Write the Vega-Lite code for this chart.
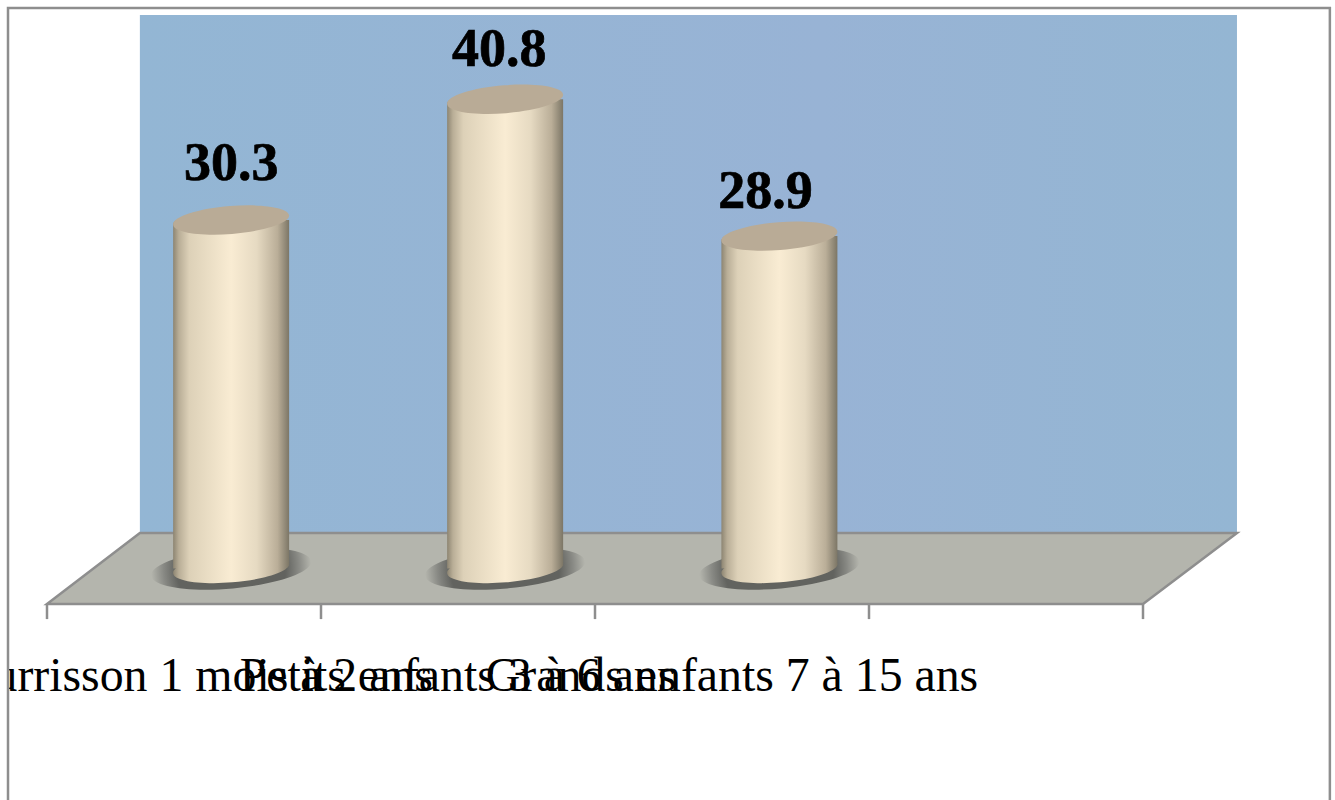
{
  "$schema": "https://vega.github.io/schema/vega-lite/v6.json",
  "description": "Répartition par tranche d'âge, colonnes cylindriques sur un socle en perspective.",
  "width": 1335,
  "height": 800,
  "padding": 0,
  "autosize": {"type": "none"},
  "background": "white",
  "config": {"view": {"stroke": null}, "axis": {"disable": true}, "legend": {"disable": true}},
  "datasets": {
    "groupes": [
      {"groupe": "Nourrisson 1 mois à 2 ans", "valeur": 30.3, "rang": 0.5, "cylindre": 0.672},
      {"groupe": "Petits enfants 3 à 6 ans", "valeur": 40.8, "rang": 1.5, "cylindre": 1.672},
      {"groupe": "Grands enfants 7 à 15 ans", "valeur": 28.9, "rang": 2.5, "cylindre": 2.673}
    ],
    "socle": [
      {"profondeur": 3.09, "gauche": 0.339, "droite": 4.343},
      {"profondeur": -3.09, "gauche": 0, "droite": 4}
    ],
    "graduations": [{"rang": 0}, {"rang": 1}, {"rang": 2}, {"rang": 3}, {"rang": 4}],
    "cadre": [{"nom": "cadre"}]
  },
  "layer": [
    {
      "description": "Paroi du fond",
      "data": {"name": "cadre"},
      "mark": {
        "type": "rect",
        "fill": {
          "x1": 0, "y1": 0, "x2": 1, "y2": 0, "gradient": "linear",
          "stops": [
            {"offset": 0, "color": "#93b6d4"},
            {"offset": 0.62, "color": "#98b3d5"},
            {"offset": 1, "color": "#94b6d3"}
          ]
        }
      },
      "encoding": {
        "x": {"datum": 0.339, "type": "quantitative", "scale": {"domain": [-0.17153, 4.70073], "range": [0, 1335], "nice": false, "zero": false, "padding": 0}},
        "x2": {"datum": 4.343},
        "y": {"datum": 3.09, "type": "quantitative", "scale": {"domain": [-20.13, 49.43], "range": [800, 0], "nice": false, "zero": false, "padding": 0}},
        "y2": {"datum": 48.13}
      }
    },
    {
      "description": "Socle",
      "data": {"name": "socle"},
      "mark": {"type": "area", "orient": "horizontal", "fill": "#b4b5ad", "stroke": "#8e8e8e", "strokeWidth": 2.5, "opacity": 1},
      "encoding": {
        "y": {"field": "profondeur", "type": "quantitative"},
        "x": {"field": "gauche", "type": "quantitative"},
        "x2": {"field": "droite"}
      }
    },
    {
      "description": "Graduations de l'axe des groupes",
      "data": {"name": "graduations"},
      "mark": {"type": "rule", "stroke": "#8e8e8e", "strokeWidth": 2.5},
      "encoding": {
        "x": {"field": "rang", "type": "quantitative"},
        "y": {"datum": -3.09, "type": "quantitative"},
        "y2": {"datum": -4.4}
      }
    },
    {
      "description": "Ombre portée au pied des cylindres",
      "data": {"name": "groupes"},
      "mark": {"type": "point", "filled": true, "opacity": 1, "stroke": null, "size": 25600,
        "shape": "M-1,0.09A1.004,0.25,-5.1,1,1,1,-0.09A1.004,0.25,-5.1,1,1,-1,0.09Z",
        "fill": {
          "gradient": "radial", "x1": 0.5, "y1": 0.5, "r1": 0, "x2": 0.5, "y2": 0.5, "r2": 0.5,
          "stops": [
            {"offset": 0, "color": "#62635f"},
            {"offset": 0.68, "color": "#62635f"},
            {"offset": 0.84, "color": "#878883"},
            {"offset": 1, "color": "#b4b5ad"}
          ]
        }},
      "encoding": {"x": {"field": "cylindre", "type": "quantitative"}, "y": {"datum": 0, "type": "quantitative"}}
    },
    {
      "description": "Base arrondie des cylindres",
      "data": {"name": "groupes"},
      "mark": {"type": "point", "filled": true, "opacity": 1, "stroke": null, "size": 13456,
        "shape": "M-1,0.08A1.003,0.24,-4.6,1,1,1,-0.08A1.003,0.24,-4.6,1,1,-1,0.08Z",
        "fill": {
          "x1": 0, "y1": 0, "x2": 1, "y2": 0, "gradient": "linear",
          "stops": [
            {"offset": 0, "color": "#8d8572"},
            {"offset": 0.05, "color": "#b9ae97"},
            {"offset": 0.14, "color": "#ddd1b8"},
            {"offset": 0.5, "color": "#f9ecd3"},
            {"offset": 0.72, "color": "#e6dac2"},
            {"offset": 0.9, "color": "#baae98"},
            {"offset": 1, "color": "#7c7666"}
          ]
        }},
      "encoding": {"x": {"field": "cylindre", "type": "quantitative"}, "y": {"datum": 0, "type": "quantitative"}}
    },
    {
      "description": "Fût des cylindres",
      "data": {"name": "groupes"},
      "mark": {"type": "bar", "orient": "vertical", "size": 116, "cornerRadiusTopLeft": 5, "cornerRadiusBottomRight": 5,
        "fill": {
          "x1": 0, "y1": 0, "x2": 1, "y2": 0, "gradient": "linear",
          "stops": [
            {"offset": 0, "color": "#8d8572"},
            {"offset": 0.05, "color": "#b9ae97"},
            {"offset": 0.14, "color": "#ddd1b8"},
            {"offset": 0.5, "color": "#f9ecd3"},
            {"offset": 0.72, "color": "#e6dac2"},
            {"offset": 0.9, "color": "#baae98"},
            {"offset": 1, "color": "#7c7666"}
          ]
        }},
      "encoding": {
        "x": {"field": "cylindre", "type": "quantitative"},
        "y": {"field": "valeur", "type": "quantitative"},
        "y2": {"datum": 0}
      }
    },
    {
      "description": "Face supérieure des cylindres",
      "data": {"name": "groupes"},
      "mark": {"type": "point", "filled": true, "opacity": 1, "stroke": null, "fill": "#b9ab96", "size": 13456,
        "shape": "M-1,0.08A1.003,0.24,-4.6,1,1,1,-0.08A1.003,0.24,-4.6,1,1,-1,0.08Z"},
      "encoding": {"x": {"field": "cylindre", "type": "quantitative"}, "y": {"field": "valeur", "type": "quantitative"}}
    },
    {
      "description": "Valeur du premier groupe",
      "data": {"name": "groupes"},
      "transform": [{"filter": "datum.rang == 0.5"}],
      "mark": {"type": "text", "font": "Liberation Serif", "fontWeight": "bold", "fontSize": 54, "fill": "black", "stroke": "black", "strokeWidth": 0.7, "align": "center", "baseline": "alphabetic", "dy": -40},
      "encoding": {"x": {"field": "cylindre", "type": "quantitative"}, "y": {"field": "valeur", "type": "quantitative"}, "text": {"field": "valeur", "type": "quantitative", "format": ".1f"}}
    },
    {
      "description": "Valeur du deuxième groupe",
      "data": {"name": "groupes"},
      "transform": [{"filter": "datum.rang == 1.5"}],
      "mark": {"type": "text", "font": "Liberation Serif", "fontWeight": "bold", "fontSize": 54, "fill": "black", "stroke": "black", "strokeWidth": 0.7, "align": "center", "baseline": "alphabetic", "dx": -6, "dy": -33},
      "encoding": {"x": {"field": "cylindre", "type": "quantitative"}, "y": {"field": "valeur", "type": "quantitative"}, "text": {"field": "valeur", "type": "quantitative", "format": ".1f"}}
    },
    {
      "description": "Valeur du troisième groupe",
      "data": {"name": "groupes"},
      "transform": [{"filter": "datum.rang == 2.5"}],
      "mark": {"type": "text", "font": "Liberation Serif", "fontWeight": "bold", "fontSize": 54, "fill": "black", "stroke": "black", "strokeWidth": 0.7, "align": "center", "baseline": "alphabetic", "dx": -14, "dy": -28},
      "encoding": {"x": {"field": "cylindre", "type": "quantitative"}, "y": {"field": "valeur", "type": "quantitative"}, "text": {"field": "valeur", "type": "quantitative", "format": ".1f"}}
    },
    {
      "description": "Libellés des groupes",
      "data": {"name": "groupes"},
      "mark": {"type": "text", "font": "Liberation Serif", "fontSize": 47.8, "fill": "black", "align": "center", "baseline": "alphabetic"},
      "encoding": {"x": {"field": "rang", "type": "quantitative"}, "y": {"datum": -10.65, "type": "quantitative"}, "text": {"field": "groupe", "type": "nominal"}}
    },
    {
      "description": "Marge blanche à gauche du cadre",
      "data": {"name": "cadre"},
      "mark": {"type": "rect", "fill": "white"},
      "encoding": {
        "x": {"datum": -0.17153, "type": "quantitative"},
        "x2": {"datum": -0.1423},
        "y": {"datum": -20.13, "type": "quantitative"},
        "y2": {"datum": 49.43}
      }
    },
    {
      "description": "Cadre du graphique",
      "data": {"name": "cadre"},
      "mark": {"type": "rect", "fill": null, "stroke": "#8e8e8e", "strokeWidth": 2.5},
      "encoding": {
        "x": {"datum": -0.1423, "type": "quantitative"},
        "x2": {"datum": 4.682},
        "y": {"datum": -21, "type": "quantitative"},
        "y2": {"datum": 48.74}
      }
    }
  ]
}
